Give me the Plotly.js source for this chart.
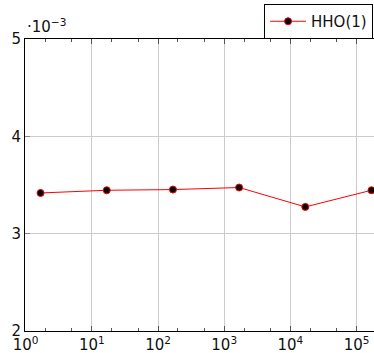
<!DOCTYPE html>
<html>
<head>
<meta charset="utf-8">
<script src="https://cdn.plot.ly/plotly-3.0.1.min.js"></script>
<style>html,body{margin:0;padding:0;overflow:hidden;background:#fff;}</style>
</head>
<body>
<div id="chart" style="width:374px;height:353px;"></div>
<script>
// Data
const xValues = [1.68, 16.8, 168, 1680, 16800, 168000];
const yValues = [0.003418, 0.003446, 0.003453, 0.003474, 0.003275, 0.003446];
const seriesName = 'HHO(1)';
const xTickVals = [1, 10, 100, 1000, 10000, 100000];
const xTickText = ['10<sup>0</sup>', '10<sup>1</sup>', '10<sup>2</sup>', '10<sup>3</sup>', '10<sup>4</sup>', '10<sup>5</sup>'];
const yTickVals = [0.002, 0.003, 0.004, 0.005];
const yTickText = ['2', '3', '4', '5'];

const font = {family: 'DejaVu Sans, sans-serif', size: 15, color: '#111'};

Plotly.newPlot('chart', [{
  x: xValues,
  y: yValues,
  name: seriesName,
  type: 'scatter',
  mode: 'lines+markers',
  line: {color: '#ff0000', width: 1},
  marker: {color: '#000', size: 7, line: {color: '#ff0000', width: 1}},
  showlegend: true
}], {
  width: 374,
  height: 353,
  margin: {l: 25, r: 0, t: 38.5, b: 22, pad: 0},
  paper_bgcolor: '#fff',
  plot_bgcolor: '#fff',
  font: font,
  xaxis: {
    type: 'log',
    range: [-0.01, 5.263],
    tickvals: xTickVals,
    ticktext: xTickText,
    ticks: 'inside',
    ticklen: 5,
    tickcolor: '#555',
    showline: true,
    linecolor: '#000',
    linewidth: 1,
    mirror: 'ticks',
    showgrid: true,
    gridcolor: '#cccccc',
    gridwidth: 1,
    zeroline: false,
    tickfont: font,
    minor: {ticks: 'inside', ticklen: 3, tickcolor: '#555', showgrid: false}
  },
  yaxis: {
    range: [0.002, 0.005],
    tickvals: yTickVals,
    ticktext: yTickText,
    ticks: 'inside',
    ticklen: 5,
    tickcolor: '#888',
    showline: true,
    linecolor: '#000',
    linewidth: 1,
    mirror: false,
    showgrid: true,
    gridcolor: '#cccccc',
    gridwidth: 1,
    zeroline: false,
    tickfont: font
  },
  legend: {
    x: 0.685,
    xanchor: 'left',
    y: 1,
    yanchor: 'bottom',
    bordercolor: '#000',
    borderwidth: 1,
    bgcolor: '#fff',
    font: font,
    entrywidth: 100,
    itemwidth: 36,
    tracegroupgap: 0
  },
  annotations: [{
    text: '·10<sup>−3</sup>',
    xref: 'paper', yref: 'paper',
    x: 0, y: 1,
    xanchor: 'left', yanchor: 'bottom',
    showarrow: false,
    font: font,
    yshift: 1
  }]
}, {displayModeBar: false, staticPlot: true});
</script>
</body>
</html>
